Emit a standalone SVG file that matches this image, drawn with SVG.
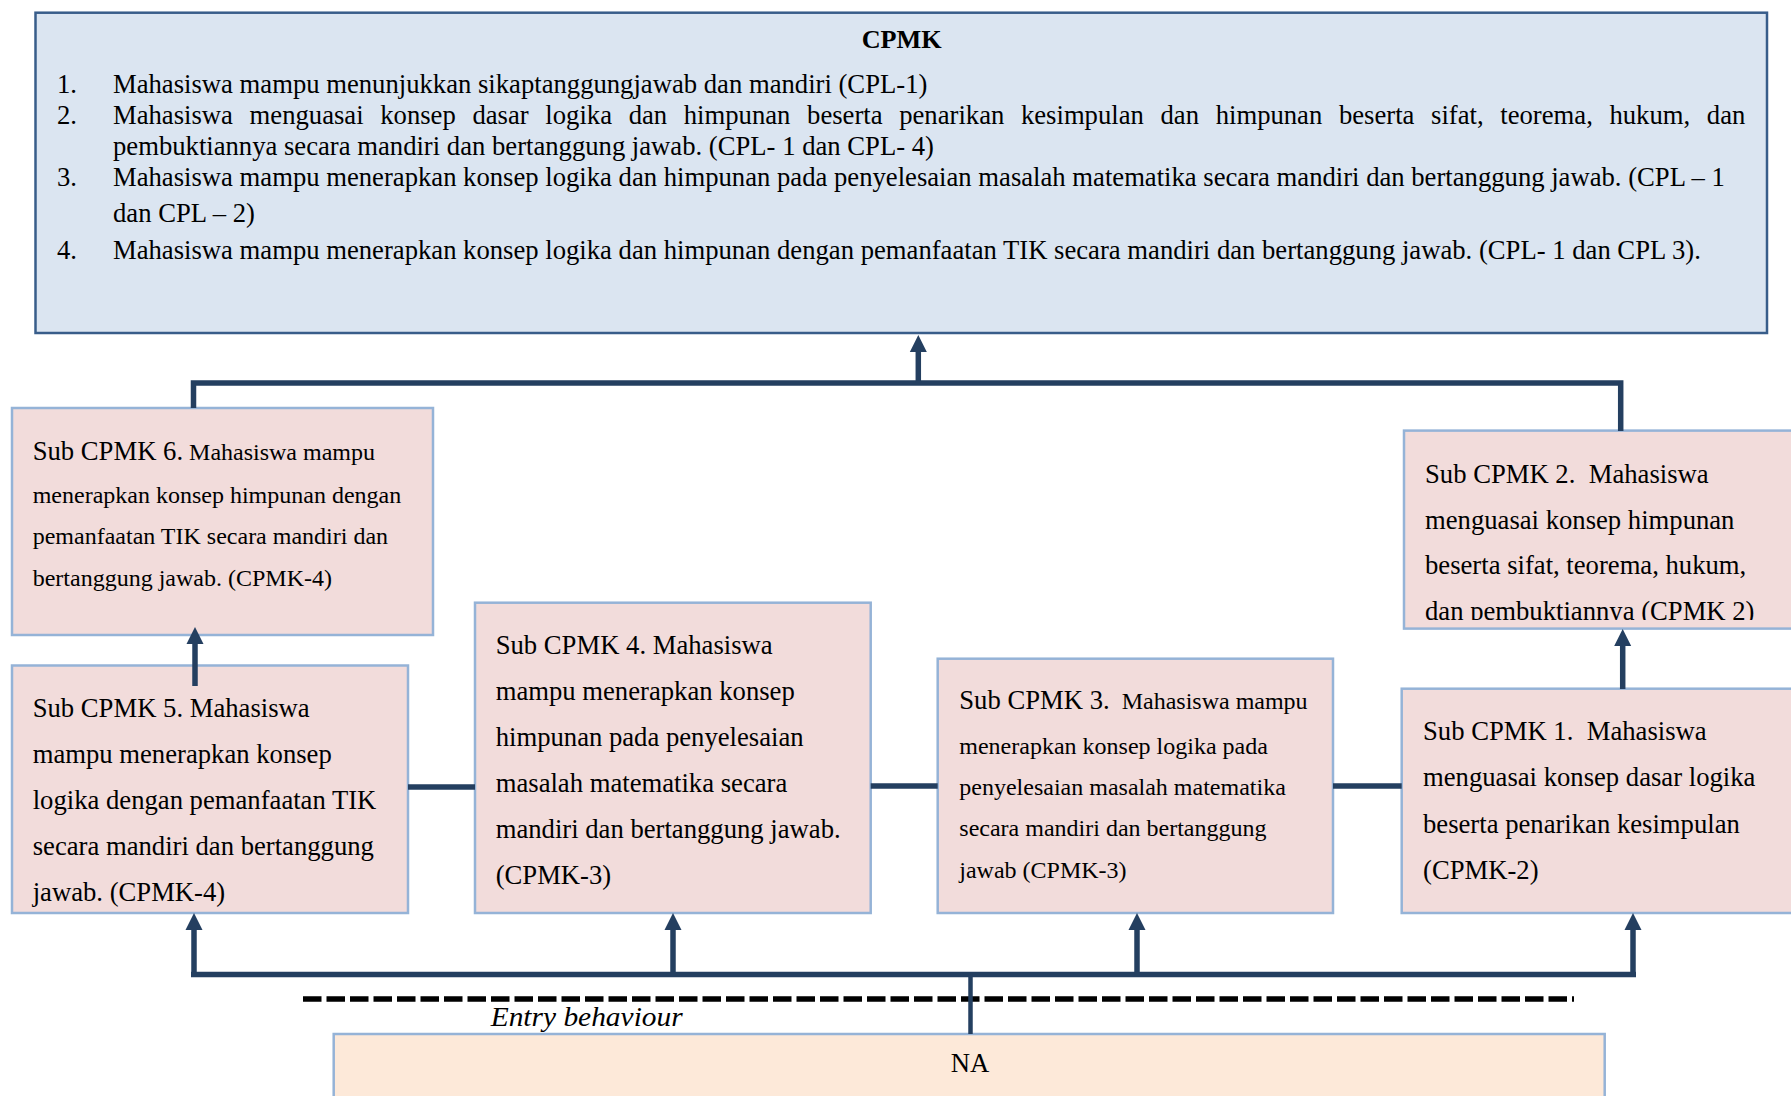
<svg xmlns="http://www.w3.org/2000/svg" width="1791" height="1096" viewBox="0 0 1791 1096">
<style>
text { font-family: "Liberation Serif", "Times New Roman", serif; fill: #000; white-space: pre; }
.t { font-size: 26.67px; }
.s { font-size: 24px; }
.sub { fill: #F2DCDB; stroke: #95B3D7; stroke-width: 2.5; }
.cpmk { fill: #DBE5F1; stroke: #385D8A; stroke-width: 2.5; }
.na { fill: #FDE9D9; stroke: #95B3D7; stroke-width: 2.5; }
.c { fill: none; stroke: #243F60; stroke-width: 5.5; }
.ar { fill: none; stroke: #243F60; stroke-width: 5.5; marker-end: url(#ah); }
</style>
<defs>
<marker id="ah" markerUnits="userSpaceOnUse" viewBox="0 -9 18 18" refX="0" refY="0" markerWidth="18" markerHeight="18" orient="auto">
<path d="M0,-8.5 L17,0 L0,8.5 Z" fill="#243F60"/>
</marker>
<clipPath id="clip2"><rect x="1404" y="431" width="400" height="189"/></clipPath>
</defs>
<rect width="1791" height="1096" fill="#fff"/>

<g id="cpmk">
<rect class="cpmk" x="35.5" y="12.7" width="1731.5" height="320.3"/>
<text x="901.7" y="48.3" text-anchor="middle" style="font-size:26.2px;font-weight:bold">CPMK</text>
<text class="t" x="57" y="92.7">1.</text>
<text class="t" x="113" y="92.7">Mahasiswa mampu menunjukkan sikaptanggungjawab dan mandiri (CPL-1)</text>
<text class="t" x="57" y="123.7">2.</text>
<text class="t" x="113" y="123.7" style="word-spacing:10px">Mahasiswa menguasai konsep dasar logika dan himpunan beserta penarikan kesimpulan dan himpunan beserta sifat, teorema, hukum, dan</text>
<text class="t" x="113" y="154.7">pembuktiannya secara mandiri dan bertanggung jawab. (CPL- 1 dan CPL- 4)</text>
<text class="t" x="57" y="185.5">3.</text>
<text class="t" x="113" y="185.5">Mahasiswa mampu menerapkan konsep logika dan himpunan pada penyelesaian masalah matematika secara mandiri dan bertanggung jawab. (CPL – 1</text>
<text class="t" x="113" y="222">dan CPL – 2)</text>
<text class="t" x="57" y="258.5">4.</text>
<text class="t" x="113" y="258.5">Mahasiswa mampu menerapkan konsep logika dan himpunan dengan pemanfaatan TIK secara mandiri dan bertanggung jawab. (CPL- 1 dan CPL 3).</text>
</g>

<g id="sub6">
<rect class="sub" x="12" y="408" width="421" height="227"/>
<text x="32.7" y="459.5"><tspan class="t">Sub CPMK 6.</tspan><tspan class="s"> Mahasiswa mampu</tspan></text>
<text class="s" x="32.7" y="502.5">menerapkan konsep himpunan dengan</text>
<text class="s" x="32.7" y="544">pemanfaatan TIK secara mandiri dan</text>
<text class="s" x="32.7" y="585.5">bertanggung jawab. (CPMK-4)</text>
</g>

<g id="sub5">
<rect class="sub" x="12" y="665.5" width="396" height="247.5"/>
<text class="t" x="32.7" y="716.5">Sub CPMK 5. Mahasiswa</text>
<text class="t" x="32.7" y="762.5">mampu menerapkan konsep</text>
<text class="t" x="32.7" y="809">logika dengan pemanfaatan TIK</text>
<text class="t" x="32.7" y="855">secara mandiri dan bertanggung</text>
<text class="t" x="32.7" y="900.5">jawab. (CPMK-4)</text>
</g>

<g id="sub4">
<rect class="sub" x="475" y="602.7" width="395.7" height="310.3"/>
<text class="t" x="495.7" y="653.5">Sub CPMK 4. Mahasiswa</text>
<text class="t" x="495.7" y="699.5">mampu menerapkan konsep</text>
<text class="t" x="495.7" y="745.5">himpunan pada penyelesaian</text>
<text class="t" x="495.7" y="792">masalah matematika secara</text>
<text class="t" x="495.7" y="837.5">mandiri dan bertanggung jawab.</text>
<text class="t" x="495.7" y="883.5">(CPMK-3)</text>
</g>

<g id="sub3">
<rect class="sub" x="937.7" y="658.7" width="395.3" height="254.3"/>
<text x="959.3" y="709"><tspan class="t">Sub CPMK 3.</tspan><tspan class="s">  Mahasiswa mampu</tspan></text>
<text class="s" x="959.3" y="753.5">menerapkan konsep logika pada</text>
<text class="s" x="959.3" y="794.5">penyelesaian masalah matematika</text>
<text class="s" x="959.3" y="836">secara mandiri dan bertanggung</text>
<text class="s" x="959.3" y="878">jawab (CPMK-3)</text>
</g>

<g id="sub1">
<rect class="sub" x="1401.7" y="688.7" width="400" height="224.3"/>
<text class="t" x="1423" y="740">Sub CPMK 1.  Mahasiswa</text>
<text class="t" x="1423" y="786.3">menguasai konsep dasar logika</text>
<text class="t" x="1423" y="832.5">beserta penarikan kesimpulan</text>
<text class="t" x="1423" y="879">(CPMK-2)</text>
</g>

<g id="sub2">
<rect class="sub" x="1404" y="430.6" width="400" height="198"/>
<g clip-path="url(#clip2)">
<text class="t" x="1425" y="482.8">Sub CPMK 2.  Mahasiswa</text>
<text class="t" x="1425" y="528.5">menguasai konsep himpunan</text>
<text class="t" x="1425" y="574.2">beserta sifat, teorema, hukum,</text>
<text class="t" x="1425" y="620">dan pembuktiannya (CPMK 2)</text>
</g>
</g>

<g id="na">
<rect class="na" x="333.7" y="1034" width="1271" height="80"/>
<text class="t" x="970" y="1072" text-anchor="middle">NA</text>
</g>

<g id="entry">
<line x1="303" y1="999" x2="1574" y2="999" stroke="#000" stroke-width="5.5" stroke-dasharray="18.5 5"/>
<text x="490.7" y="1026" style="font-size:28px;font-style:italic" textLength="192" lengthAdjust="spacingAndGlyphs">Entry behaviour</text>
</g>

<g id="connectors">
<polyline class="c" points="193.5,408 193.5,383 1620.7,383 1620.7,431"/>
<line class="ar" x1="918.3" y1="383" x2="918.3" y2="352"/>
<line class="ar" x1="195" y1="686" x2="195" y2="644"/>
<line class="ar" x1="1622.7" y1="689" x2="1622.7" y2="646"/>
<line class="c" x1="408" y1="787" x2="475" y2="787"/>
<line class="c" x1="870.7" y1="786" x2="937.7" y2="786"/>
<line class="c" x1="1333" y1="786" x2="1401.7" y2="786"/>
<line class="c" x1="191" y1="974.5" x2="1636" y2="974.5"/>
<line class="ar" x1="194" y1="977" x2="194" y2="930"/>
<line class="ar" x1="673" y1="977" x2="673" y2="930"/>
<line class="ar" x1="1137" y1="977" x2="1137" y2="930"/>
<line class="ar" x1="1633" y1="977" x2="1633" y2="930"/>
<line stroke="#243F60" stroke-width="4.5" x1="970.5" y1="974.5" x2="970.5" y2="1034"/>
</g>
</svg>
